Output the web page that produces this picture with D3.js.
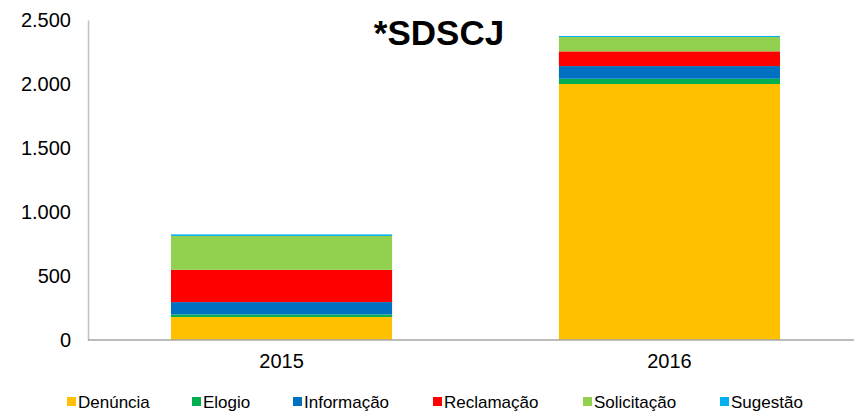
<!DOCTYPE html>
<html>
<head>
<meta charset="utf-8">
<script src="https://cdn.jsdelivr.net/npm/d3@7"></script>
<style>
  html, body { margin: 0; padding: 0; background: #fff; }
  svg { display: block; font-family: "Liberation Sans", Arial, sans-serif; }
</style>
</head>
<body>
<svg id="chart" width="854" height="411"></svg>
<script>
const years = ["2015", "2016"];
const seriesNames = ["Denúncia", "Elogio", "Informação", "Reclamação", "Solicitação", "Sugestão"];
const denuncia    = [180, 2000];
const elogio      = [20, 41];
const informacao  = [96, 99];
const reclamacao  = [252, 115];
const solicitacao = [265, 112];
const sugestao    = [12, 8];
const yTicks = [0, 500, 1000, 1500, 2000, 2500];
const colors = ["#FFC000", "#00B050", "#0070C0", "#FF0000", "#92D050", "#00B0F0"];
const title = "*SDSCJ";

const seriesValues = [denuncia, elogio, informacao, reclamacao, solicitacao, sugestao];
const table = years.map((yr, i) => {
  const row = { year: yr };
  seriesNames.forEach((s, j) => row[s] = seriesValues[j][i]);
  return row;
});

const svg = d3.select("#chart");
const mLeft = 88, mRight = 864, mTop = 20, mBottom = 340;

const x = d3.scaleBand().domain(years).range([mLeft - 1, mRight]).paddingInner(0.43).paddingOuter(0.2165);
const y = d3.scaleLinear().domain([0, 2500]).range([mBottom, mTop]);

const stacked = d3.stack().keys(seriesNames)(table);
const color = d3.scaleOrdinal().domain(seriesNames).range(colors);

svg.append("g").selectAll("g").data(stacked).join("g")
  .attr("fill", d => color(d.key))
  .selectAll("rect").data(d => d).join("rect")
  .attr("x", d => x(d.data.year))
  .attr("width", x.bandwidth())
  .attr("y", d => y(d[1]))
  .attr("height", d => y(d[0]) - y(d[1]));

// y axis
const yAxis = svg.append("g").attr("transform", `translate(${mLeft},0)`)
  .call(d3.axisLeft(y).tickValues(yTicks).tickSize(0).tickPadding(17)
    .tickFormat(d => d3.format(",")(d).replace(/,/g, ".")));
yAxis.select(".domain").attr("stroke", "#BFBFBF").attr("stroke-width", 1.5);
yAxis.selectAll("text").attr("font-size", 20).attr("fill", "#000")
  .attr("font-family", "Liberation Sans, Arial, sans-serif");

// x axis
const xAxis = svg.append("g").attr("transform", `translate(0,${mBottom})`)
  .call(d3.axisBottom(x).tickSize(0).tickPadding(14));
xAxis.select(".domain").attr("stroke", "#A6A6A6").attr("stroke-width", 1.5)
  .attr("d", `M${mLeft},0H854`);
xAxis.selectAll("text").attr("font-size", 20).attr("fill", "#000")
  .attr("font-family", "Liberation Sans, Arial, sans-serif");

// title
svg.append("text").attr("x", 439).attr("y", 45).attr("text-anchor", "middle")
  .attr("font-size", 35).attr("font-weight", "bold").attr("fill", "#000")
  .text(title);

// legend
const legendX = [67, 192, 293, 433, 583, 720];
const lg = svg.append("g").selectAll("g").data(seriesNames).join("g")
  .attr("transform", (d, i) => `translate(${legendX[i]},0)`);
lg.append("rect").attr("x", 0).attr("y", 397).attr("width", 9).attr("height", 9)
  .attr("fill", d => color(d));
lg.append("text").attr("x", 11).attr("y", 408).attr("font-size", 17).attr("fill", "#000")
  .text(d => d);
</script>
</body>
</html>
